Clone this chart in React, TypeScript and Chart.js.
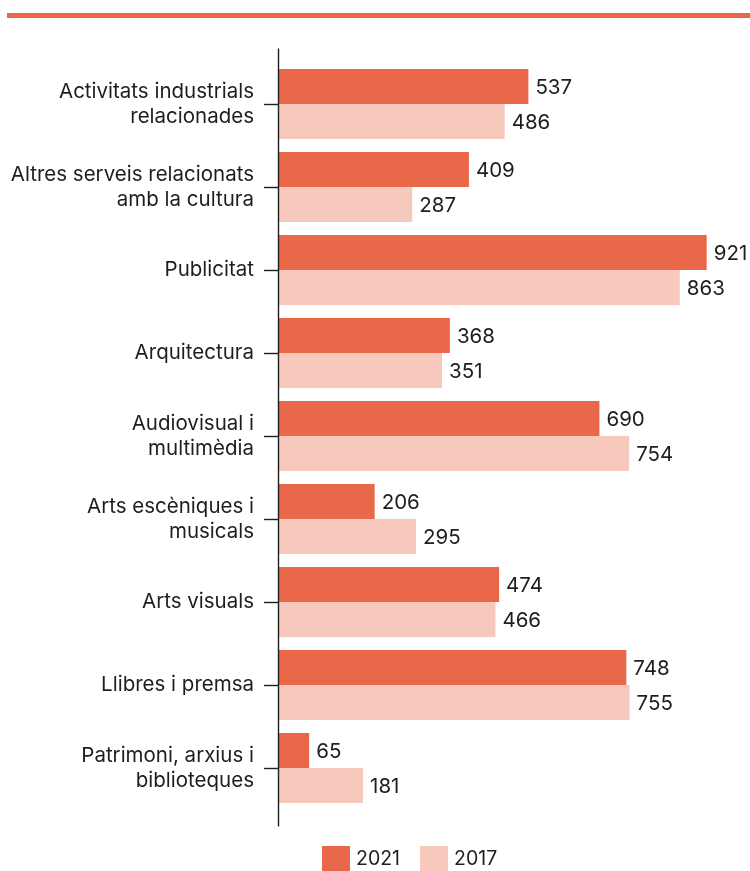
import React, { useEffect, useRef } from "react";
import { Chart, registerables } from "chart.js";

Chart.register(...registerables);

const categories: (string | string[])[] = [
  ["Activitats industrials", "relacionades"],
  ["Altres serveis relacionats", "amb la cultura"],
  "Publicitat",
  "Arquitectura",
  ["Audiovisual i", "multimèdia"],
  ["Arts escèniques i", "musicals"],
  "Arts visuals",
  "Llibres i premsa",
  ["Patrimoni, arxius i", "biblioteques"],
];
const values2021 = [537, 409, 921, 368, 690, 206, 474, 748, 65];
const values2017 = [486, 287, 863, 351, 754, 295, 466, 755, 181];
const seriesLabels = ["2021", "2017"];

const COLOR_2021 = "#E9684A";
const COLOR_2017 = "#F7C9BD";
const TEXT = "#1e1e1e";
const FONT = "Inter, 'Liberation Sans', sans-serif";

const valueLabelPlugin = {
  id: "valueLabels",
  afterDatasetsDraw(chart: any) {
    const ctx = chart.ctx;
    ctx.save();
    ctx.font = `20.5px ${FONT}`;
    ctx.fillStyle = TEXT;
    ctx.textAlign = "left";
    ctx.textBaseline = "middle";
    chart.data.datasets.forEach((ds: any, i: number) => {
      const meta = chart.getDatasetMeta(i);
      meta.data.forEach((bar: any, j: number) => {
        ctx.fillText(String(ds.data[j]), bar.x + 7, bar.y + 1);
      });
    });
    ctx.restore();
  },
};

const axisLinePlugin = {
  id: "axisLine",
  afterDraw(chart: any) {
    const ctx = chart.ctx;
    const x = chart.chartArea.left - 0.5;
    ctx.save();
    ctx.strokeStyle = TEXT;
    ctx.lineWidth = 1.4;
    ctx.beginPath();
    ctx.moveTo(x, chart.chartArea.top - 14);
    ctx.lineTo(x, chart.chartArea.bottom + 17);
    ctx.stroke();
    ctx.restore();
  },
};

export default function App() {
  const ref = useRef<HTMLCanvasElement>(null);
  useEffect(() => {
    if (!ref.current) return;
    const chart = new Chart(ref.current, {
      type: "bar",
      data: {
        labels: categories,
        datasets: [
          { label: seriesLabels[0], data: values2021, backgroundColor: COLOR_2021, categoryPercentage: 0.843, barPercentage: 1 },
          { label: seriesLabels[1], data: values2017, backgroundColor: COLOR_2017, categoryPercentage: 0.843, barPercentage: 1 },
        ],
      },
      options: {
        indexAxis: "y",
        animation: false,
        responsive: false,
        maintainAspectRatio: false,
        layout: { padding: { top: 62.5, bottom: 61.5, left: 0, right: 8 } },
        plugins: { legend: { display: false }, tooltip: { enabled: false } },
        scales: {
          x: { display: false, min: 0, max: 997 },
          y: {
            afterFit: (scale: any) => { scale.width = 279; },
            border: { display: false },
            grid: { display: true, drawOnChartArea: false, drawTicks: true, tickLength: 15, tickWidth: 1.4, color: TEXT, offset: false },
            ticks: { color: TEXT, padding: 10, font: { family: FONT, size: 20.5, lineHeight: 1.22 } },
          },
        },
      },
      plugins: [valueLabelPlugin, axisLinePlugin],
    });
    return () => chart.destroy();
  }, []);

  const legendItem = (left: number, color: string, text: string) => (
    <div style={{ position: "absolute", left, top: 846, height: 25, display: "flex", alignItems: "center" }}>
      <div style={{ width: 28, height: 25, background: color }} />
      <span style={{ marginLeft: 6, fontFamily: FONT, fontSize: 19.5, color: TEXT, lineHeight: "25px" }}>{text}</span>
    </div>
  );

  return (
    <div style={{ position: "absolute", left: 0, top: 0, width: 750, height: 871, background: "#fff", overflow: "hidden" }}>
      <div style={{ position: "absolute", left: 7, top: 13, width: 743, height: 5, background: COLOR_2021 }} />
      <canvas ref={ref} width={750} height={871} style={{ position: "absolute", left: 0, top: 0 }} />
      {legendItem(322, COLOR_2021, seriesLabels[0])}
      {legendItem(420, COLOR_2017, seriesLabels[1])}
    </div>
  );
}
